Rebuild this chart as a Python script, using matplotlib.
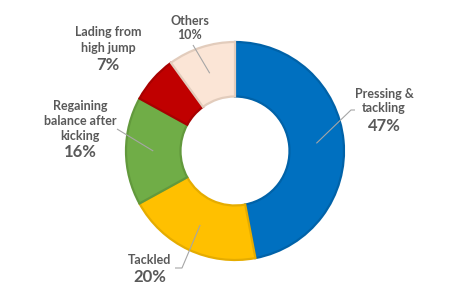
import numpy as np
import matplotlib
matplotlib.use('Agg')
import matplotlib.pyplot as plt

# Injury situations (share of total, %)
names = ['Pressing &\ntackling', 'Tackled', 'Regaining\nbalance after\nkicking',
         'Lading from\nhigh jump', 'Others']
shares = [47, 20, 16, 7, 10]
colors = ['#0070C0', '#FFC000', '#70AD47', '#C00000', '#FBE5D6']
edges = ['#0062A8', '#E5AC00', '#62993C', '#A80000', '#E2CCBC']

# label placement in pixel coords (name centre, percent centre)
name_px = [(384, 101), (150, 260), (80, 121), (108, 40), (190, 21)]
pct_px = [(384, 126), (150, 277), (80, 152), (108, 65), (190, 35)]
pct_big = [True, True, True, True, False]
# leader line path (elbow + end), None = no line
leader_px = [[(351, 110), (355, 110)],
             [(182, 268), (175, 268)],
             [(117, 129)],
             None,
             [(193, 45)]]

W, H = 463, 297
cx, cy, R = 235, 151, 109
txt = '#595959'
plt.rcParams['font.family'] = ['Lato', 'DejaVu Sans']


def px(p):
    return ((p[0] - cx) / R, (cy - p[1]) / R)


fig = plt.figure(figsize=(W / 100, H / 100), dpi=100)
ax = fig.add_axes([0, 0, 1, 1])

wedges, _ = ax.pie(shares, colors=colors, startangle=90, counterclock=False,
                   radius=1.0, wedgeprops=dict(width=0.5, linewidth=1.6))
for w, ec in zip(wedges, edges):
    w.set_edgecolor(ec)

# pie() resets the limits, so set them afterwards
ax.set_xlim(-cx / R, (W - cx) / R)
ax.set_ylim(-(H - cy) / R, cy / R)
ax.set_aspect('equal')
ax.axis('off')

for i, w in enumerate(wedges):
    mid = np.deg2rad((w.theta1 + w.theta2) / 2)
    anchor = (0.75 * np.cos(mid), 0.75 * np.sin(mid))
    if leader_px[i] is not None:
        pts = [anchor] + [px(p) for p in leader_px[i]]
        ax.plot([p[0] for p in pts], [p[1] for p in pts], color='#A6A6A6',
                lw=0.8, solid_capstyle='butt', zorder=3)
    nx, ny = px(name_px[i])
    ax.text(nx, ny, names[i], ha='center', va='center', color=txt,
            fontsize=9, fontweight='bold', linespacing=1.3)
    qx, qy = px(pct_px[i])
    if pct_big[i]:
        ax.text(qx, qy, f'{shares[i]}%', ha='center', va='center', color=txt,
                fontsize=12, fontweight='bold')
    else:
        ax.text(qx, qy, f'{shares[i]}%', ha='center', va='center', color=txt,
                fontsize=9, fontweight='bold')

fig.savefig('out.png', dpi=100, facecolor='white')
